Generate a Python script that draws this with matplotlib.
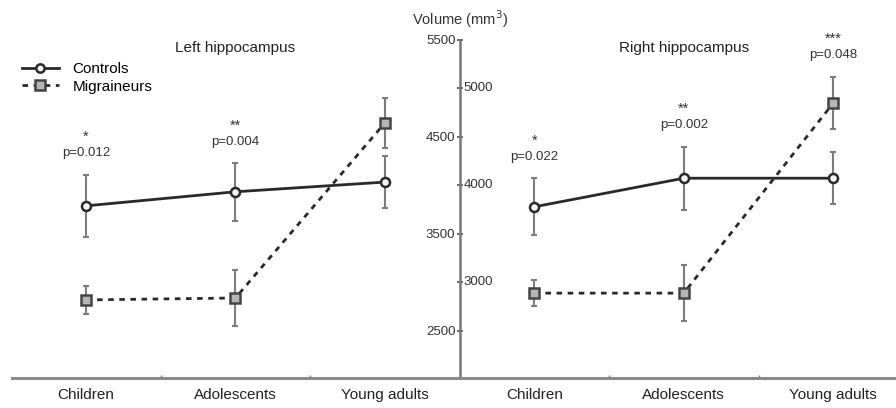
import matplotlib
matplotlib.use("Agg")
import matplotlib.pyplot as plt
from matplotlib.lines import Line2D

plt.rcParams['font.family'] = ['Liberation Sans', 'DejaVu Sans']

groups = ["Children", "Adolescents", "Young adults"]
panels = ["Left hippocampus", "Right hippocampus"]

left_controls = [3790, 3935, 4035]
left_controls_err = [320, 300, 270]
left_migr = [2820, 2840, 4645]
left_migr_err = [145, 290, 258]

right_controls = [3780, 4075, 4075]
right_controls_err = [295, 325, 268]
right_migr = [2890, 2890, 4850]
right_migr_err = [134, 290, 268]

left_stars = ["*", "**", ""]
left_p = ["p=0.012", "p=0.004", ""]
right_stars = ["*", "**", "***"]
right_p = ["p=0.022", "p=0.002", "p=0.048"]

yticks = [2500, 3000, 3500, 4000, 4500, 5000, 5500]

fig = plt.figure(figsize=(8.96, 4.08), dpi=100)
ax = fig.add_axes([12/896, 30/408, 1 - 12/896, 1 - 40/408 - 30/408])

line_col = "#2a2a2a"
err_col = "#7d7d7d"
txt_col = "#333333"

def draw_panel(xs, c, ce, m, me):
    ax.errorbar(xs, c, yerr=ce, fmt='none', ecolor=err_col, elinewidth=1.5,
                capsize=2.5, capthick=1.5, zorder=2)
    ax.errorbar(xs, m, yerr=me, fmt='none', ecolor=err_col, elinewidth=1.5,
                capsize=2.5, capthick=1.5, zorder=2)
    ax.plot(xs, c, '-', color=line_col, lw=2.0, marker='o', ms=6.5,
            mfc='#f4f4f4', mec=line_col, mew=1.8, zorder=3)
    ax.plot(xs, m, color=line_col, lw=2.0, ls=(0, (2, 2)), marker='s', ms=7,
            mfc='#b5b5b5', mec='#444444', mew=1.8, zorder=3)

xl = [0, 1, 2]
xr = [3, 4, 5]
draw_panel(xl, left_controls, left_controls_err, left_migr, left_migr_err)
draw_panel(xr, right_controls, right_controls_err, right_migr, right_migr_err)

ax.set_xlim(-0.495, 5.42)
ax.set_ylim(2015, 5500)

for s in ['top', 'right']:
    ax.spines[s].set_visible(False)
ax.spines['left'].set_position(('data', 2.5))
ax.spines['left'].set_color('#777777')
ax.spines['left'].set_linewidth(1.8)
ax.spines['bottom'].set_color('#8a8a8a')
ax.spines['bottom'].set_linewidth(2.2)

ax.set_yticks(yticks)
ax.set_yticklabels([str(v) if (v // 500) % 2 == 1 else "" for v in yticks])
ax.tick_params(axis='y', direction='inout', length=4, width=1.2, colors='#555555',
               labelsize=9.5, labelcolor=txt_col, pad=1)
for v in yticks:
    if (v // 500) % 2 == 0:
        ax.annotate(str(v), xy=(2.5, v), xytext=(3, 0), textcoords='offset points',
                    ha='left', va='center', fontsize=9.5, color=txt_col)

ax.set_xticks([0, 1, 2, 3, 4, 5])
ax.set_xticklabels(groups + groups, fontsize=11, color='#222222')
ax.set_xticks([0.5, 1.5, 3.5, 4.5], minor=True)
ax.tick_params(axis='x', which='major', length=0, pad=7)
ax.tick_params(axis='x', which='minor', length=2, width=1, colors='#777777', direction='in')

# significance labels (vertical positions of the annotation text)
left_label_y = [4335, 4450, 0]
right_label_y = [4295, 4625, 5345]
for x, s, p, ty in zip(xl, left_stars, left_p, left_label_y):
    if s:
        ax.text(x, ty + 170, s, ha='center', va='center', fontsize=10.5, color=txt_col)
        ax.text(x, ty, p, ha='center', va='center', fontsize=9.5, color=txt_col)
for x, s, p, ty in zip(xr, right_stars, right_p, right_label_y):
    if s:
        ax.text(x, ty + 170, s, ha='center', va='center', fontsize=10.5, color=txt_col)
        ax.text(x, ty, p, ha='center', va='center', fontsize=9.5, color=txt_col)

ax.text(1, 5420, panels[0], ha='center', va='center', fontsize=11, color='#222222')
ax.text(4, 5420, panels[1], ha='center', va='center', fontsize=11, color='#222222')
ax.text(2.5, 5715, "Volume (mm$^3$)", ha='center', va='center', fontsize=10.5, color=txt_col)

handles = [
    Line2D([0], [0], color=line_col, lw=2.0, marker='o', ms=6, mfc='#f4f4f4', mec=line_col, mew=1.8),
    Line2D([0], [0], color=line_col, lw=2.0, ls=(0, (2, 2)), marker='s', ms=6.5,
           mfc='#b5b5b5', mec='#444444', mew=1.8),
]
ax.legend(handles, ["Controls", "Migraineurs"], loc='upper left',
          bbox_to_anchor=(0.001, 0.962), frameon=False, fontsize=11, handlelength=2.4,
          handletextpad=0.9, labelspacing=0.25, borderaxespad=0.2)

fig.savefig("out.png", dpi=100)
